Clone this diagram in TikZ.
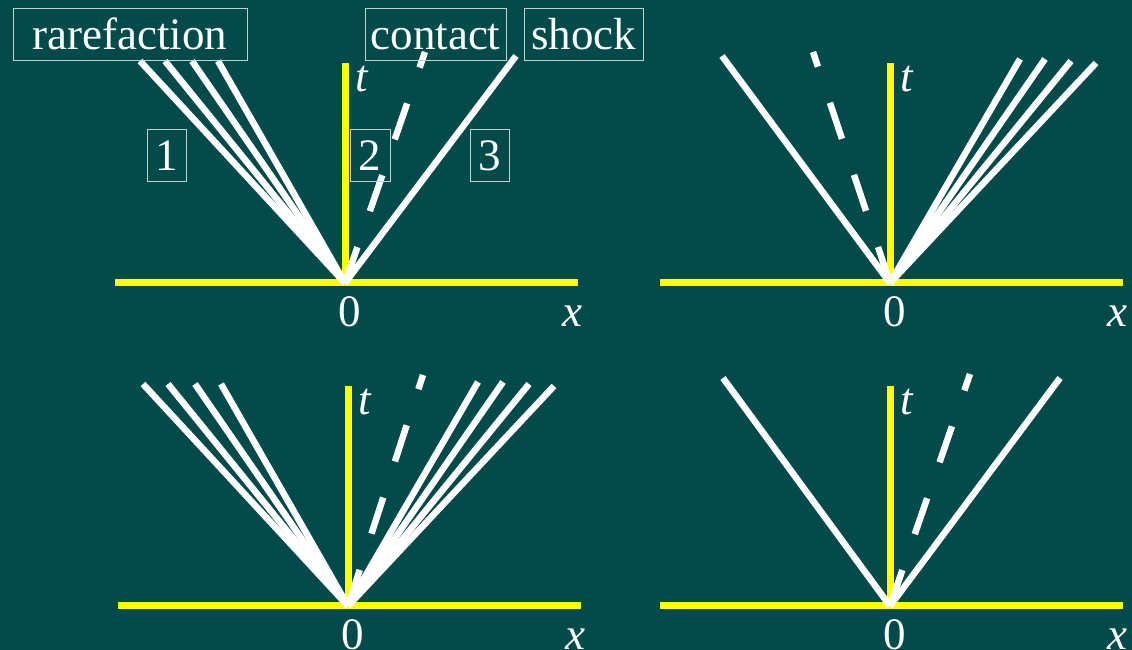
\documentclass[tikz,border=0pt]{standalone}
\usepackage{fontspec}
\setmainfont{Liberation Serif}
\definecolor{board}{HTML}{024B4A}
\definecolor{axisyellow}{HTML}{FFFF00}
\tikzset{
  axis/.style={axisyellow, line width=7pt},
  wave/.style={white, line width=6.5pt},
  contactline/.style={white, line width=6.5pt, dash pattern=on 38pt off 38pt},
  tag/.style={draw=white!75!board, line width=0.8pt, text=white,
    minimum height=52pt, inner xsep=4pt, inner ysep=0pt,
    text height=31pt, text depth=0pt},
  axlabel/.style={text=white, anchor=base, inner sep=0pt},
}
\newcommand\drawaxes[1]{%
  \draw[axis] (-230,0) -- (233,0);
  \draw[axis] (0,0) -- (0,220);
  \node[axlabel] (t#1) at (17,191) {\textit{t}};
  \node[axlabel] (zero#1) at (5,-44) {0};
  \node[axlabel] (x#1) at (227,-44) {\textit{x}};}
\newcommand\fanleft{%
  \foreach \ex in {-205,-180,-153,-127} \draw[wave] (0,0) -- (\ex,222);}
\newcommand\fanright{%
  \foreach \ex/\ey in {130/224,155/224,181/222,206/220} \draw[wave] (0,0) -- (\ex,\ey);}
\begin{document}
\begin{tikzpicture}[x=1pt, y=1pt, font=\fontsize{45}{54}\selectfont]
  \useasboundingbox (0,0) rectangle (1132,650);
  \fill[board] (0,0) rectangle (1132,650);
  % rarefaction - contact - shock
  \begin{scope}[shift={(345,367)}]
    \drawaxes{a}
    \fanleft
    \draw[wave] (0,0) -- (171,227);
    \draw[contactline] (0,0) -- (80,231);
    \node[tag, minimum width=234pt] (rare) at (-215,249) {rarefaction};
    \node[tag, minimum width=141pt] (cont) at (90.5,249) {contact};
    \node[tag, minimum width=119pt] (shk) at (238.5,249) {shock};
    \node[tag, minimum width=39pt] (r1) at (-178.5,127.5) {1};
    \node[tag, minimum width=40pt] (r2) at (25,127.5) {2};
    \node[tag, minimum width=39pt] (r3) at (144.5,127.5) {3};
  \end{scope}
  % shock - contact - rarefaction
  \begin{scope}[shift={(890,367)}]
    \drawaxes{b}
    \draw[wave] (0,0) -- (-168,227);
    \fanright
    \draw[contactline] (0,0) -- (-77,231);
  \end{scope}
  % rarefaction - contact - rarefaction
  \begin{scope}[shift={(348,44)}]
    \drawaxes{c}
    \fanleft
    \fanright
    \draw[contactline] (0,0) -- (75,231);
  \end{scope}
  % shock - contact - shock
  \begin{scope}[shift={(890,44)}]
    \drawaxes{d}
    \draw[wave] (0,0) -- (-167,228);
    \draw[wave] (0,0) -- (170,228);
    \draw[contactline] (0,0) -- (80,232);
  \end{scope}
\end{tikzpicture}
\end{document}
